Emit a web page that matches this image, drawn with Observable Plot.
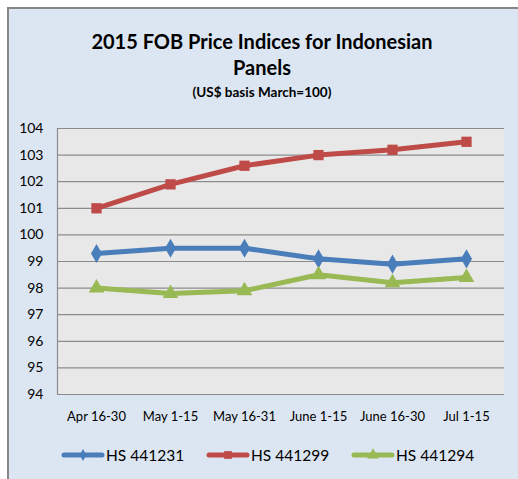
<!DOCTYPE html>
<html>
<head>
<meta charset="utf-8">
<script src="https://cdn.jsdelivr.net/npm/d3@7"></script>
<script src="https://cdn.jsdelivr.net/npm/@observablehq/plot@0.6"></script>
<style>
  html, body { margin: 0; padding: 0; background: #ffffff; }
  body { width: 518px; height: 479px; overflow: hidden; position: relative; font-family: Lato, "Open Sans", sans-serif; }
  #frame { position: absolute; left: 7px; top: 7px; width: 540px; height: 500px; background: #dce6f2; border: 2px solid #878787; box-sizing: border-box; }
  .t { position: absolute; left: 0; width: 524px; text-align: center; color: #000; font-weight: bold; white-space: nowrap; }
  #chart { position: absolute; left: 0; top: 110px; }
  .leg { position: absolute; top: 446px; display: flex; align-items: center; font-size: 15.5px; color: #000; }
  .leg svg { display: block; margin-right: 1px; }
</style>
</head>
<body>
<div id="frame"></div>
<div class="t" style="top:29px;font-size:20px;">2015 FOB Price Indices for Indonesian</div>
<div class="t" style="top:55px;font-size:20px;">Panels</div>
<div class="t" style="top:84px;font-size:13.5px;">(US$ basis March=100)</div>
<div id="chart"></div>
<div id="legend"></div>
<script>
const periods = ["Apr 16-30", "May 1-15", "May 16-31", "June 1-15", "June 16-30", "Jul 1-15"];
const seriesNames = ["HS 441231", "HS 441299", "HS 441294"];
const hs441231 = [99.3, 99.5, 99.5, 99.1, 98.9, 99.1];
const hs441299 = [101.0, 101.9, 102.6, 103.0, 103.2, 103.5];
const hs441294 = [98.0, 97.8, 97.9, 98.5, 98.2, 98.4];
const yTicks = [94, 95, 96, 97, 98, 99, 100, 101, 102, 103, 104];

const colors = ["#4a7ebb", "#be4b48", "#98b954"];
const symbols = ["diamond", "square", "triangle"];
const seriesValues = [hs441231, hs441299, hs441294];

const data = [];
seriesValues.forEach((vals, si) => {
  vals.forEach((v, i) => data.push({series: seriesNames[si], period: periods[i], value: v}));
});

const chart = Plot.plot({
  width: 518,
  height: 330,
  marginLeft: 57,
  marginRight: 14,
  marginTop: 18,
  marginBottom: 46,
  style: { fontFamily: "Lato, 'Open Sans', sans-serif", fontSize: "13px", color: "#000", background: "transparent", overflow: "visible" },
  x: { type: "point", domain: periods, padding: 0.5, label: null },
  y: { domain: [94, 104], label: null },
  color: { domain: seriesNames, range: colors },
  symbol: { domain: seriesNames, range: symbols },
  marks: [
    Plot.frame({ fill: "#e8e8e8", stroke: null }),
    Plot.ruleY(yTicks, { stroke: "#8c8c8c", strokeWidth: 1.2 }),
    Plot.frame({ anchor: "left", stroke: "#8c8c8c", strokeWidth: 1.2 }),
    Plot.axisY(yTicks, { tickSize: 0, tickPadding: 14, fontSize: 14 }),
    Plot.axisX({ tickSize: 0, tickPadding: 17, fontSize: 13 }),
    Plot.line(data, { x: "period", y: "value", z: "series", stroke: "series", strokeWidth: 5, strokeLinejoin: "round" }),
    Plot.dot(data, { x: "period", y: "value", symbol: "series", fill: "series", stroke: null, r: 5.8 })
  ]
});
document.getElementById("chart").appendChild(chart);

// Legend
const legend = document.getElementById("legend");
seriesNames.forEach((name, i) => {
  const item = document.createElement("div");
  item.className = "leg";
  item.style.left = (61 + 145 * i) + "px";
  const svg = d3.create("svg").attr("width", 44).attr("height", 18);
  svg.append("line").attr("x1", 3).attr("x2", 41).attr("y1", 9).attr("y2", 9)
    .attr("stroke", colors[i]).attr("stroke-width", 5).attr("stroke-linecap", "round");
  const sym = d3.symbol().type([d3.symbolDiamond, d3.symbolSquare, d3.symbolTriangle][i]).size(i === 0 ? 40 : 60);
  svg.append("path").attr("d", sym()).attr("transform", "translate(22,9)").attr("fill", colors[i]);
  item.appendChild(svg.node());
  const span = document.createElement("span");
  span.textContent = name;
  item.appendChild(span);
  legend.appendChild(item);
});
</script>
</body>
</html>
